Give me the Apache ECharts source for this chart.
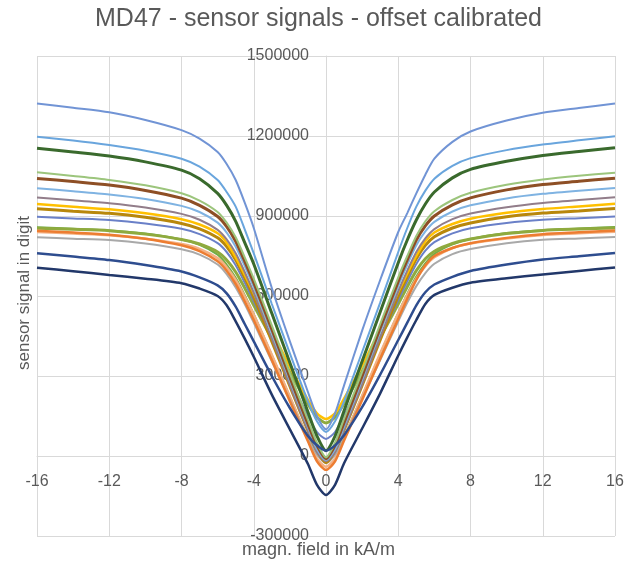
<!DOCTYPE html>
<html>
<head>
<meta charset="utf-8">
<script src="https://cdn.jsdelivr.net/npm/echarts@6/dist/echarts.min.js"></script>
<style>
html,body{margin:0;padding:0;background:#fff;}
#chart{width:637px;height:567px;}
</style>
</head>
<body>
<div id="chart"></div>
<script>
// magnetic field positions (kA/m)
var fieldX = [-16,-14,-12,-10,-8,-7,-6,-5.5,-5,-4.5,-4,-3,-2,-1,-0.5,0,0.5,1,2,3,4,4.5,5,5.5,6,7,8,10,12,14,16];

// sensor signals (digit), one array per sensor
var sTopBlue = [1322000,1306000,1289000,1260000,1222000,1190000,1140000,1095000,1035000,950000,855000,630000,430000,240000,150000,100000,160000,265000,470000,660000,840000,911000,985000,1055000,1115000,1178000,1217000,1258000,1287000,1305000,1322000];
var sLightBlue1 = [1197000,1183000,1166000,1145000,1115000,1085000,1035000,990000,935000,850000,760000,570000,385000,205000,130000,90000,130000,205000,390000,575000,765000,855000,935000,995000,1040000,1088000,1117000,1147000,1168000,1184000,1199000];
var sDarkGreen = [1154000,1140000,1125000,1103000,1072000,1040000,985000,940000,880000,800000,720000,535000,350000,165000,75000,20000,75000,170000,355000,540000,725000,810000,885000,945000,990000,1043000,1075000,1105000,1127000,1142000,1156000];
var sLightGreen = [1064000,1050000,1035000,1015000,985000,958000,915000,875000,820000,745000,665000,490000,310000,135000,50000,-5000,50000,140000,315000,495000,670000,750000,825000,880000,918000,960000,987000,1017000,1037000,1051000,1062000];
var sBrown = [1041000,1029000,1016000,996000,967000,940000,898000,860000,805000,730000,650000,475000,295000,120000,40000,-10000,40000,125000,300000,480000,655000,735000,810000,863000,900000,942000,968000,998000,1018000,1030000,1042000];
var sLightBlue2 = [1004000,993000,981000,964000,938000,915000,875000,838000,785000,712000,632000,460000,282000,108000,25000,-15000,25000,110000,285000,465000,637000,717000,790000,842000,878000,917000,940000,966000,983000,995000,1005000];
var sMauve = [969000,959000,948000,932000,908000,886000,848000,812000,760000,690000,612000,440000,265000,95000,15000,-20000,15000,98000,268000,445000,617000,695000,765000,816000,851000,888000,909000,933000,949000,960000,970000];
var sYellow = [945000,935000,925000,910000,888000,868000,835000,800000,745000,680000,610000,470000,335000,210000,160000,139000,160000,215000,340000,475000,615000,685000,750000,805000,838000,870000,890000,912000,926000,936000,946000];
var sGold = [927000,918000,910000,895000,872000,852000,818000,785000,735000,668000,595000,430000,262000,95000,20000,-25000,20000,98000,265000,435000,600000,673000,740000,790000,822000,855000,874000,897000,911000,919000,928000];
var sBlue = [897000,891000,885000,872000,852000,832000,798000,765000,715000,650000,580000,435000,290000,150000,90000,64000,90000,152000,293000,440000,585000,655000,720000,770000,802000,835000,854000,874000,886000,892000,898000];
var sOlive = [854000,850000,845000,832000,812000,795000,765000,735000,690000,630000,565000,440000,315000,195000,145000,124000,145000,197000,318000,445000,570000,635000,695000,740000,768000,797000,814000,834000,846000,851000,855000];
var sOrange = [845000,838000,830000,815000,790000,768000,730000,695000,645000,580000,510000,360000,205000,55000,-20000,-52000,-20000,58000,210000,365000,515000,590000,660000,715000,750000,780000,798000,818000,832000,839000,846000];
var sGray = [820000,815000,810000,797000,775000,755000,718000,682000,632000,570000,500000,355000,210000,65000,5000,-26000,5000,68000,213000,360000,505000,575000,637000,686000,721000,757000,776000,798000,811000,816000,821000];
var sGreen = [858000,852000,846000,834000,812000,792000,755000,718000,668000,603000,532000,378000,222000,70000,15000,-5000,15000,72000,225000,382000,537000,608000,673000,722000,758000,794000,814000,836000,847000,853000,859000];
var sLightOrange = [840000,834000,828000,815000,795000,777000,742000,708000,660000,598000,530000,380000,222000,65000,-10000,-40000,-10000,68000,225000,385000,535000,603000,665000,712000,745000,780000,797000,816000,829000,835000,841000];
var sNavy = [760000,748000,735000,716000,692000,670000,640000,610000,560000,495000,430000,300000,180000,75000,40000,20000,40000,78000,183000,305000,435000,500000,565000,614000,643000,672000,694000,718000,737000,749000,761000];
var sDarkNavy = [706000,693000,679000,665000,648000,628000,600000,565000,505000,440000,372000,230000,100000,-30000,-108000,-146000,-108000,-27000,103000,235000,377000,445000,510000,570000,604000,631000,650000,667000,681000,694000,707000];

// axis ticks
var xTicks = {min:-16, max:16, step:4};
var yTicks = {min:-300000, max:1500000, step:300000};

var seriesDefs = [
  {name:'S16', data:sGreen, color:'#70AD47', w:2},
  {name:'S17', data:sLightOrange, color:'#F4B183', w:2.5},
  {name:'S13', data:sGray, color:'#A9A9A9', w:2},
  {name:'S11', data:sOlive, color:'#8FAA3E', w:3},
  {name:'S12', data:sOrange, color:'#ED7D31', w:2.5},
  {name:'S10', data:sBlue, color:'#6A80C8', w:2},
  {name:'S9', data:sGold, color:'#B8870B', w:3},
  {name:'S8', data:sYellow, color:'#FFC000', w:2.5},
  {name:'S7', data:sMauve, color:'#927D8A', w:2},
  {name:'S6', data:sLightBlue2, color:'#7FB3E2', w:2},
  {name:'S5', data:sBrown, color:'#8E4F25', w:3},
  {name:'S4', data:sLightGreen, color:'#9CC57C', w:2},
  {name:'S3', data:sDarkGreen, color:'#3A6A2D', w:3},
  {name:'S2', data:sLightBlue1, color:'#69A5DD', w:2},
  {name:'S1', data:sTopBlue, color:'#7194D5', w:2},
  {name:'S14', data:sNavy, color:'#2E4D8F', w:2.5},
  {name:'S15', data:sDarkNavy, color:'#22386A', w:2.5}
];

var series = seriesDefs.map(function(d){
  return {
    name:d.name, type:'line', showSymbol:false, symbol:'none', smooth:0.25,
    lineStyle:{color:d.color, width:d.w}, itemStyle:{color:d.color},
    data: fieldX.map(function(x,i){ return [x, d.data[i]]; })
  };
});

var FONT = 'Liberation Sans';
var plain = function(v){ return String(v); };
// plot box (layout)
var G = {left:37, right:22, top:56, bottom:31, w:637, h:567};
var plotW = G.w - G.left - G.right, plotH = G.h - G.top - G.bottom;
// shift axes so they cross at the origin
var yAxisShift = -plotW * (0 - xTicks.min) / (xTicks.max - xTicks.min);
var xAxisShift = -plotH * (0 - yTicks.min) / (yTicks.max - yTicks.min);

var chart = echarts.init(document.getElementById('chart'), null, {renderer:'canvas'});
chart.setOption({
  animation:false,
  backgroundColor:'#ffffff',
  title:{text:'MD47 - sensor signals - offset calibrated', left:'center', top:2,
    textStyle:{fontFamily:FONT, fontSize:25, fontWeight:'normal', color:'#595959'}},
  grid:{left:G.left, right:G.right, top:G.top, bottom:G.bottom, containLabel:false, outerBoundsMode:'none'},
  xAxis:{type:'value', min:xTicks.min, max:xTicks.max, interval:xTicks.step,
    position:'bottom', offset:xAxisShift,
    axisLine:{show:true, onZero:false, lineStyle:{color:'#d9d9d9', width:1}},
    axisTick:{show:false},
    axisLabel:{fontFamily:FONT, fontSize:16, color:'#595959', margin:18, formatter:plain},
    splitLine:{show:true, lineStyle:{color:'#d9d9d9', width:1}}},
  yAxis:{type:'value', min:yTicks.min, max:yTicks.max, interval:yTicks.step,
    position:'left', offset:yAxisShift,
    axisLine:{show:true, onZero:false, lineStyle:{color:'#d9d9d9', width:1}},
    axisTick:{show:false},
    axisLabel:{fontFamily:FONT, fontSize:16, color:'#595959', margin:17, formatter:plain},
    splitLine:{show:true, lineStyle:{color:'#d9d9d9', width:1}}},
  graphic:[
    {type:'text', left:'center', top:541, style:{text:'magn. field in kA/m', fontFamily:FONT, fontSize:18, fill:'#595959'}},
    {type:'text', x:24, y:293, rotation:Math.PI/2, style:{text:'sensor signal in digit', fontFamily:FONT, fontSize:17, fill:'#595959', align:'center', verticalAlign:'middle'}}
  ],
  series:series
});
</script>
</body>
</html>
